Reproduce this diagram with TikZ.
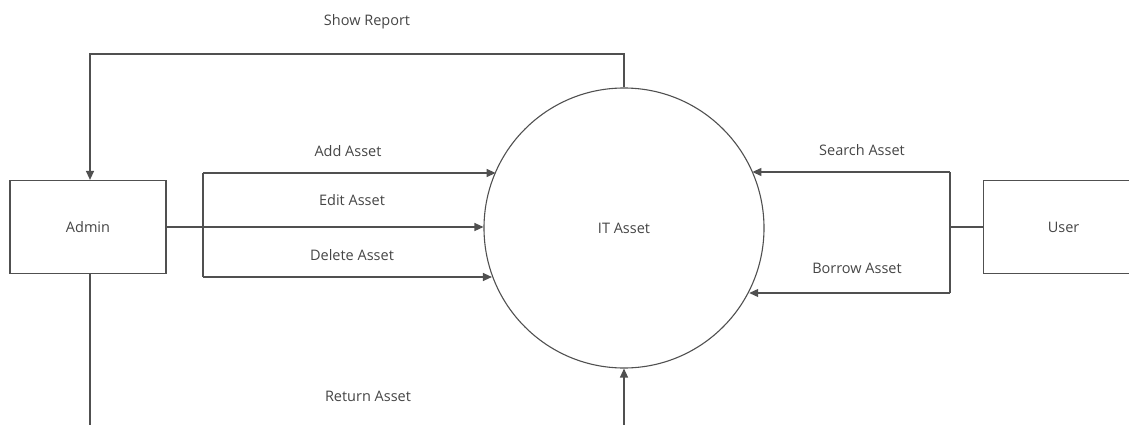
\documentclass[tikz,border=0pt]{standalone}
\usepackage{fontspec}
\setmainfont{Open Sans}
\usetikzlibrary{arrows.meta,calc}
\definecolor{ln}{HTML}{505050}
\definecolor{tx}{HTML}{454545}
\tikzset{
  every node/.style={font=\fontsize{14.5}{17}\selectfont, text=tx},
  entity/.style={draw=ln, line width=1.2pt, minimum width=156pt, minimum height=93pt, inner sep=0pt},
  proc/.style={draw=ln, line width=1.1pt, circle, minimum size=280pt, inner sep=0pt},
  conn/.style={draw=ln, line width=1.2pt},
  flow/.style={conn, -{Triangle[length=9pt,width=8pt]}},
  lbl/.style={inner sep=0pt}
}
\begin{document}
\begin{tikzpicture}[x=1pt,y=-1pt]
\useasboundingbox (0,0) rectangle (1129,425);
\node[entity] (admin) at (88,227) {Admin};
\node[entity, minimum width=160pt, anchor=west] (user) at (983,227) {User};
\node[proc] (it) at (624,228) {IT Asset};

% Show Report
\coordinate (top) at (90,54);
\draw[flow] (it.north) |- (top) -- (top |- admin.north);
\node[lbl] (lsr) at (367,22) {Show Report};

% Admin flows
\coordinate (ja) at (203,173);
\coordinate (jd) at (203,277);
\draw[flow] (ja) -- (ja -| it.156);
\draw[conn] (ja) -- (jd);
\draw[flow] (jd) -- (jd -| it.200);
\draw[flow] (admin.east) -- (admin.east -| it.west);
\node[lbl] (ladd) at (348,151) {Add Asset};
\node[lbl] (ledit) at (352,200) {Edit Asset};
\node[lbl] (ldel) at (352,255) {Delete Asset};

% User flows
\coordinate (js) at (950,172);
\coordinate (jb) at (950,293);
\draw[conn] (user.west) -- (user.west -| js);
\draw[conn] (js) -- (jb);
\draw[flow] (js) -- (js -| it.24);
\draw[flow] (jb) -- (jb -| it.-27);
\node[lbl] (lsearch) at (862,150) {Search Asset};
\node[lbl] (lborrow) at (857,268) {Borrow Asset};

% Return Asset
\coordinate (rb) at (624,425);
\coordinate (ab) at (90,425);
\draw[conn] (admin.south -| ab) -- (ab);
\draw[flow] (rb) -- (it.south);
\node[lbl] (lret) at (368,396) {Return Asset};
\end{tikzpicture}
\end{document}
